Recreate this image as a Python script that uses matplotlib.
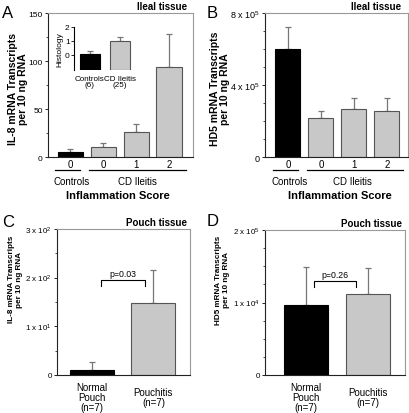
import numpy as np
import matplotlib.pyplot as plt
from matplotlib.ticker import MultipleLocator

plt.switch_backend('agg')
plt.rcParams['font.family'] = ['Liberation Sans', 'DejaVu Sans']
plt.rcParams['mathtext.default'] = 'regular'

# --- data ---
ileal_groups = ['0', '0', '1', '2']
ileal_colors = ['black', '#c8c8c8', '#c8c8c8', '#c8c8c8']

il8_ileal = [5.5, 10.4, 26, 94]
il8_ileal_err = [2.5, 4.2, 9, 34]

# HD5 in units of 1e5
hd5_ileal = [6.0, 2.17, 2.67, 2.56]
hd5_ileal_err = [1.2, 0.39, 0.61, 0.72]

hist_groups = ['Controls\n(6)', 'CD Ileitis\n(25)']
histology = [0.1, 1.0]
histology_err = [0.2, 0.3]

pouch_groups = ['Normal\nPouch\n(n=7)', 'Pouchitis\n(n=7)']
pouch_colors = ['black', '#c8c8c8']
il8_pouch = [10, 148]
il8_pouch_err = [17, 68]
hd5_pouch = [96, 112]
hd5_pouch_err = [53, 36]

il8_pouch_ticks = [0, 100, 200, 300]
il8_pouch_ticklabels = ['0', r'1 x 10$^1$', r'2 x 10$^2$', r'3 x 10$^2$']
hd5_pouch_ticks = [0, 100, 200]
hd5_pouch_ticklabels = ['0', r'1 x 10$^4$', r'2 x 10$^5$']
hd5_ileal_ticks = [0, 4, 8]
hd5_ileal_ticklabels = ['0', r'4 x 10$^5$', r'8 x 10$^5$']

ERRC = '#777777'
EDGE = '#555555'


def style(ax):
    for s in ['top', 'right']:
        ax.spines[s].set_color('#999999')
        ax.spines[s].set_linewidth(0.8)
    for s in ['left', 'bottom']:
        ax.spines[s].set_color('#222222')
        ax.spines[s].set_linewidth(0.8)
    ax.tick_params(axis='x', length=0, labelsize=7, pad=1.5)
    ax.tick_params(axis='y', which='major', direction='out', length=2.5,
                   width=0.6, labelsize=6, pad=1.2)
    ax.tick_params(axis='y', which='minor', direction='out', length=1.5,
                   width=0.5)


def bars(ax, vals, errs, colors, width):
    x = np.arange(len(vals))
    ax.bar(x, vals, width, color=colors, edgecolor=[EDGE if c != 'black' else 'black' for c in colors],
           linewidth=0.8, zorder=2)
    ax.errorbar(x, vals, yerr=[np.zeros(len(errs)), errs], fmt='none',
                ecolor=ERRC, elinewidth=0.9, capsize=2, capthick=0.9, zorder=1)
    return x


def score_labels(ax, xc_ctrl, xc_cd, xc_title):
    tr = ax.get_xaxis_transform()
    ax.plot([-0.45, 0.3], [-0.09, -0.09], color='black', lw=0.9, transform=tr, clip_on=False)
    ax.plot([0.57, 3.5], [-0.09, -0.09], color='black', lw=0.9, transform=tr, clip_on=False)
    ax.text(xc_ctrl, -0.165, 'Controls', transform=tr, ha='center', va='center', fontsize=7)
    ax.text(xc_cd, -0.165, 'CD Ileitis', transform=tr, ha='center', va='center', fontsize=7)
    ax.text(xc_title, -0.265, 'Inflammation Score', transform=tr, ha='center', va='center',
            fontsize=8, fontweight='bold')


fig = plt.figure(figsize=(4.10, 4.14), dpi=100)

# ---------- A ----------
axA = fig.add_axes([0.117, 0.618, 0.354, 0.348])
bars(axA, il8_ileal, il8_ileal_err, ileal_colors, 0.76)
axA.set_xlim(-0.67, 3.73)
axA.set_ylim(0, 150)
axA.set_yticks([0, 50, 100, 150])
axA.yaxis.set_minor_locator(MultipleLocator(25))
axA.set_xticks(range(4))
axA.set_xticklabels(ileal_groups)
style(axA)
axA.set_ylabel('IL-8 mRNA Transcripts\nper 10 ng RNA', fontsize=7.5, fontweight='bold',
               linespacing=1.0)
axA.yaxis.set_label_coords(-0.14, 0.48)
score_labels(axA, 0.05, 2.03, 1.45)
axA.text(0.96, 1.028, 'Ileal tissue', transform=axA.transAxes, ha='right', va='baseline',
         fontsize=7, fontweight='bold')

# inset histology
axI = fig.add_axes([0.180, 0.8285, 0.149, 0.104])
xi = np.arange(2)
axI.bar(xi, np.array(histology) + 1.07, 0.655, bottom=-1.07, color=pouch_colors,
        edgecolor=['black', EDGE], linewidth=0.8, zorder=2)
axI.errorbar(xi, histology, yerr=[[0, 0], histology_err], fmt='none', ecolor=ERRC,
             elinewidth=0.9, capsize=2, capthick=0.9, zorder=1)
axI.set_xlim(-0.53, 1.5)
axI.set_ylim(-1.07, 2)
axI.set_yticks([0, 1, 2])
axI.set_xticks(xi)
axI.set_xticklabels(hist_groups, linespacing=0.95)
for s in ['top', 'right', 'bottom']:
    axI.spines[s].set_visible(False)
axI.spines['left'].set_linewidth(0.8)
axI.tick_params(axis='x', length=0, labelsize=5.8, pad=8.3)
for lab in axI.get_xticklabels():
    lab.set_va('center')
axI.tick_params(axis='y', length=2, width=0.6, labelsize=6, pad=1)
axI.set_ylabel('Histology', fontsize=6, labelpad=1)
axI.patch.set_alpha(0)

# ---------- B ----------
axB = fig.add_axes([0.646, 0.618, 0.349, 0.348])
bars(axB, hd5_ileal, hd5_ileal_err, ileal_colors, 0.76)
axB.set_xlim(-0.7, 3.64)
axB.set_ylim(0, 8)
axB.set_yticks(hd5_ileal_ticks)
axB.set_yticklabels(hd5_ileal_ticklabels)
axB.yaxis.set_minor_locator(MultipleLocator(1))
axB.set_xticks(range(4))
axB.set_xticklabels(ileal_groups)
style(axB)
axB.tick_params(axis='y', labelsize=6.5)
axB.set_ylabel('HD5 mRNA Transcripts\nper 10 ng RNA', fontsize=7.5, fontweight='bold',
               linespacing=1.0)
axB.yaxis.set_label_coords(-0.245, 0.48)
score_labels(axB, 0.06, 1.97, 1.58)
axB.text(0.95, 1.028, 'Ileal tissue', transform=axB.transAxes, ha='right', va='baseline',
         fontsize=7, fontweight='bold')


def pouch_panel(ax, vals, errs, ticks, ticklabels, ylabel, minor, ptext, py, pdrop, px):
    bars(ax, vals, errs, pouch_colors, 0.71)
    ax.set_xlim(-0.56, 1.59)
    ax.set_ylim(0, ticks[-1])
    ax.set_yticks(ticks)
    ax.set_yticklabels(ticklabels)
    ax.yaxis.set_minor_locator(MultipleLocator(minor))
    ax.set_xticks([0, 1])
    ax.set_xticklabels(pouch_groups, linespacing=0.95)
    style(ax)
    ax.tick_params(axis='x', pad=15.8)
    ax.tick_params(axis='y', labelsize=5.8)
    for lab in ax.get_xticklabels():
        lab.set_va('center')
    ax.set_ylabel(ylabel, fontsize=5.9, fontweight='bold', linespacing=1.2)
    ax.yaxis.set_label_coords(-0.255, 0.66)
    ax.plot([px[0], px[0], px[1], px[1]], [py - pdrop, py, py, py - pdrop],
            color='black', lw=0.8)
    ax.text(sum(px) / 2, py + ticks[-1] * 0.012, ptext, ha='center', va='bottom', fontsize=6.3)
    ax.text(0.98, 1.028, 'Pouch tissue', transform=ax.transAxes, ha='right', va='baseline',
            fontsize=7, fontweight='bold')


# ---------- C ----------
axC = fig.add_axes([0.139, 0.0918, 0.324, 0.353])
pouch_panel(axC, il8_pouch, il8_pouch_err, il8_pouch_ticks, il8_pouch_ticklabels,
            'IL-8 mRNA Transcripts\nper 10 ng RNA', 50, 'p=0.03', 195, 12, (0.15, 0.86))

# ---------- D ----------
axD = fig.add_axes([0.646, 0.0918, 0.341, 0.350])
pouch_panel(axD, hd5_pouch, hd5_pouch_err, hd5_pouch_ticks, hd5_pouch_ticklabels,
            'HD5 mRNA Transcripts\nper 10 ng RNA', 25, 'p=0.26', 130, 9, (0.13, 0.82))
axD.set_xlim(-0.66, 1.6)
axD.yaxis.set_label_coords(-0.25, 0.66)

# panel letters
for lab, x, y in [('A', 2, 18), ('B', 207, 18), ('C', 2, 227), ('D', 207, 226)]:
    fig.text(x / 410, 1 - y / 414, lab, fontsize=12, va='baseline', ha='left')

plt.savefig('out.png', dpi=100)
